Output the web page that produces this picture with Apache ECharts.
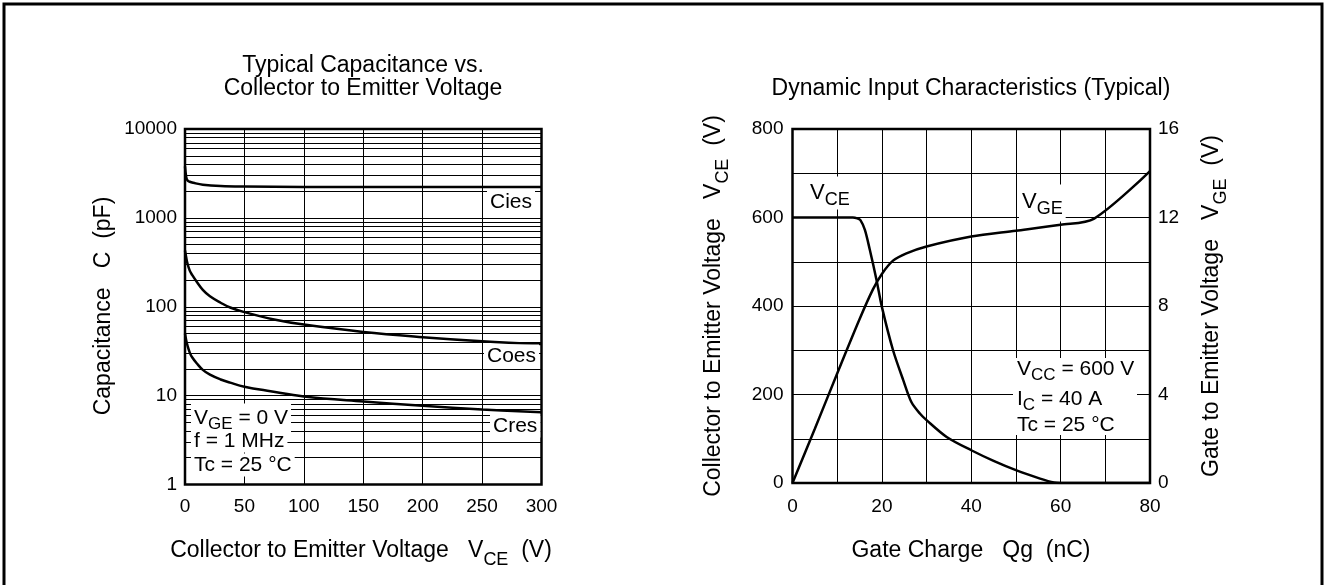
<!DOCTYPE html>
<html><head><meta charset="utf-8">
<script src="https://cdn.jsdelivr.net/npm/echarts@6/dist/echarts.min.js"></script>
<style>html,body{margin:0;padding:0;background:#fff}#c{width:1327px;height:585px}</style>
</head><body><div id="c"></div>
<script>
const FONT = '"Liberation Sans", Arial, Helvetica, sans-serif';

// ---- Left chart: capacitance (pF) vs collector-emitter voltage (V)
const ciesData = [[0,3800],[1,2900],[2,2650],[4,2550],[7,2480],[15,2360],[30,2280],[50,2250],[100,2230],[200,2220],[300,2220]];
const coesData = [[0,430],[1,360],[2,310],[4,255],[6,228],[10,190],[15,155],[21,131],[30,111],[38,98],[50,87],[75,72],[100,63],[150,52],[200,45.5],[250,41],[300,38]];
const cresData = [[0,50],[1,42],[2,37],[4,30.5],[6,27],[10,23],[15,19.5],[21,17.2],[30,15.2],[38,14.0],[50,12.6],[72,11.2],[100,9.8],[150,8.6],[200,7.7],[250,7.0],[300,6.5]];
const capMinorGrid = [2,3,4,5,6,7,8,9,20,30,40,50,60,70,80,90,200,300,400,500,600,700,800,900,2000,3000,4000,5000,6000,7000,8000,9000];

// ---- Right chart: dynamic input characteristics vs gate charge (nC)
const vceData = [[0,600],[13.5,600],[14.5,598],[15.2,594],[16.2,572],[17.3,527],[18.8,459],[20,398],[22.5,300],[24.8,232],[26.6,183],[28.5,157],[30,142],[34.5,104],[40,74],[45,50],[50,29],[55.4,10],[58.5,1],[60,0],[80,0]];
const vgeData = [[0,0],[5,2.45],[10,4.95],[15,7.4],[18,8.75],[20,9.45],[22.5,10.05],[25.5,10.38],[30,10.69],[40,11.14],[50,11.4],[60,11.67],[67.5,11.95],[80,14.1]];

const chart = echarts.init(document.getElementById('c'));

const gridLine = {show: true, lineStyle: {color: '#000', width: 1}};
const lbl = {color: '#000', fontSize: 19, fontFamily: FONT};
const curve = {color: '#000', width: 2.5};

function rich(m, s, pad) {
  return {
    m: {fontSize: m, fontFamily: FONT, fill: '#000', verticalAlign: 'middle'},
    s: {fontSize: s, fontFamily: FONT, fill: '#000', verticalAlign: 'middle', padding: [pad, 0, 0, 0]}
  };
}
const rAxis = rich(23, 18, 19);
const rLab = rich(21, 17, 12);
const rCurve = rich(22, 18, 15);

function txt(x, y, text, r, opts) {
  opts = opts || {};
  return {
    type: 'text', x: x, y: y, rotation: opts.rot || 0, z: 100,
    style: Object.assign({
      text: text, rich: r, fill: '#000', fontSize: r.m.fontSize, fontFamily: FONT,
      align: opts.align || 'center', textAlign: opts.align || 'center',
      verticalAlign: 'middle', textVerticalAlign: 'middle'
    }, opts.bg ? {backgroundColor: '#fff', padding: opts.pad || [1, 3]} : {})
  };
}

const option = {
  animation: false,
  backgroundColor: '#fff',
  grid: [
    {left: 185, top: 129, width: 356.5, height: 355.5, show: true, borderColor: '#000', borderWidth: 2.5, backgroundColor: 'transparent'},
    {left: 792.5, top: 129, width: 357.5, height: 354, show: true, borderColor: '#000', borderWidth: 2.5, backgroundColor: 'transparent'}
  ],
  xAxis: [
    {type: 'value', gridIndex: 0, min: 0, max: 300, interval: 50,
     axisLine: {show: false}, axisTick: {show: false}, splitLine: gridLine,
     axisLabel: Object.assign({margin: 13}, lbl)},
    {type: 'value', gridIndex: 1, min: 0, max: 80, interval: 10,
     axisLine: {show: false}, axisTick: {show: false}, splitLine: gridLine,
     axisLabel: Object.assign({margin: 14, formatter: v => (v % 20 === 0 ? String(v) : '')}, lbl)}
  ],
  yAxis: [
    {type: 'log', gridIndex: 0, logBase: 10, min: 1, max: 10000, splitNumber: 4,
     axisLine: {show: false}, axisTick: {show: false}, splitLine: gridLine,
     axisLabel: Object.assign({margin: 8, formatter: v => String(Math.round(v))}, lbl)},
    {type: 'value', gridIndex: 1, min: 0, max: 800, interval: 100, position: 'left',
     axisLine: {show: false}, axisTick: {show: false}, splitLine: gridLine,
     axisLabel: Object.assign({margin: 9, formatter: v => (v % 200 === 0 ? String(v) : '')}, lbl)},
    {type: 'value', gridIndex: 1, min: 0, max: 16, interval: 2, position: 'right',
     axisLine: {show: false}, axisTick: {show: false}, splitLine: {show: false},
     axisLabel: Object.assign({margin: 8, formatter: v => (v % 4 === 0 ? String(v) : '')}, lbl)}
  ],
  series: [
    {name: 'Cies', type: 'line', xAxisIndex: 0, yAxisIndex: 0, data: ciesData, showSymbol: false,
     smooth: 0.4, lineStyle: curve, z: 5,
     markLine: {silent: true, symbol: ['none', 'none'], label: {show: false},
       lineStyle: {color: '#000', width: 1, type: 'solid'},
       data: capMinorGrid.map(v => ({yAxis: v}))}},
    {name: 'Coes', type: 'line', xAxisIndex: 0, yAxisIndex: 0, data: coesData, showSymbol: false,
     smooth: 0.4, lineStyle: curve, z: 5},
    {name: 'Cres', type: 'line', xAxisIndex: 0, yAxisIndex: 0, data: cresData, showSymbol: false,
     smooth: 0.4, lineStyle: curve, z: 5},
    {name: 'VCE', type: 'line', xAxisIndex: 1, yAxisIndex: 1, data: vceData, showSymbol: false,
     smooth: 0.3, lineStyle: curve, z: 5},
    {name: 'VGE', type: 'line', xAxisIndex: 1, yAxisIndex: 2, data: vgeData, showSymbol: false,
     smooth: 0.3, lineStyle: curve, z: 5}
  ],
  graphic: [
    {type: 'rect', z: 100, shape: {x: 4, y: 4, width: 1318, height: 640},
     style: {fill: 'none', stroke: '#000', lineWidth: 3}},
    // titles
    txt(363, 66, '{m|Typical Capacitance vs.}', rAxis),
    txt(363, 89, '{m|Collector to Emitter Voltage}', rAxis),
    txt(971, 89, '{m|Dynamic Input Characteristics (Typical)}', rAxis),
    // axis names
    txt(361, 551, '{m|Collector to Emitter Voltage   V}{s|CE}{m|  (V)}', rAxis),
    txt(104, 306, '{m|Capacitance   C  (pF)}', rAxis, {rot: Math.PI / 2}),
    txt(971, 551, '{m|Gate Charge   Qg  (nC)}', rAxis),
    txt(714, 306, '{m|Collector to Emitter Voltage   V}{s|CE}{m|  (V)}', rAxis, {rot: Math.PI / 2}),
    txt(1212, 306, '{m|Gate to Emitter Voltage   V}{s|GE}{m|  (V)}', rAxis, {rot: Math.PI / 2}),
    // curve labels left
    txt(487, 202, '{m|Cies}', rLab, {align: 'left', bg: true, pad: [1, 3]}),
    txt(484, 356, '{m|Coes}', rLab, {align: 'left', bg: true, pad: [1, 3]}),
    txt(490, 426, '{m|Cres}', rLab, {align: 'left', bg: true, pad: [1, 3]}),
    // left conditions
    txt(191, 418, '{m|V}{s|GE}{m| = 0 V}', rLab, {align: 'left', bg: true, pad: [0, 3]}),
    txt(191, 441, '{m|f = 1 MHz}', rLab, {align: 'left', bg: true, pad: [1, 3]}),
    txt(191, 465, '{m|Tc = 25 °C}', rLab, {align: 'left', bg: true, pad: [1, 3]}),
    // right curve labels
    txt(807, 193, '{m|V}{s|CE}', rCurve, {align: 'left', bg: true, pad: [0, 3]}),
    txt(1019, 203, '{m|V}{s|GE}', rCurve, {align: 'left', bg: true, pad: [1, 3, 3, 3]}),
    // right conditions
    {type: 'rect', z: 99, shape: {x: 1013, y: 358, width: 124, height: 77}, style: {fill: '#fff'}},
    txt(1017, 369, '{m|V}{s|CC}{m| = 600 V}', rLab, {align: 'left'}),
    txt(1017, 399, '{m|I}{s|C}{m| = 40 A}', rLab, {align: 'left'}),
    txt(1017, 425, '{m|Tc = 25 °C}', rLab, {align: 'left'})
  ]
};
chart.setOption(option);
</script></body></html>
